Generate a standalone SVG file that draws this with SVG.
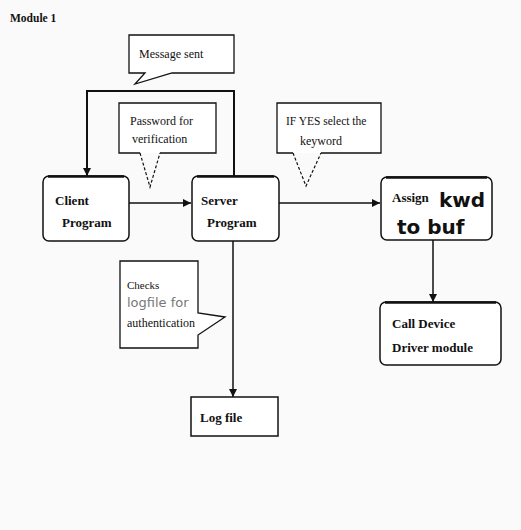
<svg xmlns="http://www.w3.org/2000/svg" width="521" height="530" viewBox="0 0 521 530">
<style>
.bg{fill:#fafafa}
.box{fill:#ffffff;stroke:#111;stroke-width:1.5}
.top{fill:none;stroke:#111;stroke-width:2.5}
.call{fill:#ffffff;stroke:#111;stroke-width:1.3}
.dash{fill:none;stroke:#111;stroke-width:1.2;stroke-dasharray:3 2}
.conn{fill:none;stroke:#111;stroke-width:1.5}
.loop{fill:none;stroke:#111;stroke-width:2}
.lbl{font-family:"Liberation Serif","Times New Roman",serif;font-size:13px;font-weight:bold;fill:#111}
.ctext{font-family:"Liberation Serif","Times New Roman",serif;font-size:12px;fill:#111}
.sans{font-family:"DejaVu Sans",Verdana,sans-serif;font-weight:bold;font-size:20px;fill:#111}
.grey{font-family:"DejaVu Sans",Verdana,sans-serif;font-size:13px;fill:#777}
</style>
<defs>
<marker id="arr" viewBox="0 0 10 10" refX="10" refY="5" markerWidth="8" markerHeight="8" markerUnits="userSpaceOnUse" orient="auto">
<path d="M0,0 L10,5 L0,10 Z" fill="#111"/>
</marker>
</defs>
<rect class="bg" x="0" y="0" width="521" height="530"/>
<text x="10" y="22" class="ctext" style="font-weight:bold;font-size:11.5px">Module 1</text>

<g id="connectors">
<path class="loop" d="M234,176 V91 H87 V176" marker-end="url(#arr)"/>
<line class="conn" x1="129" y1="203" x2="191" y2="203" marker-end="url(#arr)"/>
<line class="conn" x1="279" y1="203" x2="380" y2="203" marker-end="url(#arr)"/>
<line class="conn" x1="233" y1="241" x2="233" y2="397" marker-end="url(#arr)"/>
<line class="conn" x1="433" y1="240" x2="433" y2="302" marker-end="url(#arr)"/>
</g>

<g id="callout-message">
<path class="call" d="M129,35 H234 V73 H172 L135,84 L145,73 H129 Z"/>
<text x="139" y="58" class="ctext">Message sent</text>
</g>

<g id="callout-password">
<rect x="119" y="103" width="97" height="50" fill="#ffffff"/>
<path class="call" style="fill:none" d="M140,153 H119 V103 H216 V153 H160"/>
<path class="dash" d="M140,153 L150,187 L160,153"/>
<text x="130" y="125" class="ctext">Password for</text>
<text x="132" y="143" class="ctext">verification</text>
</g>

<g id="callout-ifyes">
<rect x="277" y="103" width="104" height="50" fill="#ffffff"/>
<path class="call" style="fill:none" d="M293,153 H277 V103 H381 V153 H321"/>
<path class="dash" d="M293,153 L306,186 L321,153"/>
<text x="286" y="125" class="ctext" style="font-size:11.5px">IF YES select the</text>
<text x="300" y="145" class="ctext">keyword</text>
</g>

<g id="callout-checks">
<path class="call" d="M120,261 H198 V313 L225,317 L198,335 V348 H120 Z"/>
<text x="127" y="289" class="ctext" style="font-size:11px">Checks</text>
<text x="127" y="307" class="grey">logfile for</text>
<text x="127" y="327" class="ctext">authentication</text>
</g>

<g id="client">
<rect class="box" x="43" y="176" width="86" height="65" rx="6"/>
<path class="top" d="M48,176.5 H124"/>
<text x="55" y="205" class="lbl">Client</text>
<text x="62" y="227" class="lbl">Program</text>
</g>

<g id="server">
<rect class="box" x="192" y="176" width="87" height="65" rx="6"/>
<path class="top" d="M197,176.5 H274"/>
<text x="201" y="205" class="lbl">Server</text>
<text x="207" y="227" class="lbl">Program</text>
</g>

<g id="assign">
<rect class="box" x="381" y="177" width="111" height="63" rx="6"/>
<path class="top" d="M386,177.5 H487"/>
<text x="392" y="202" class="lbl">Assign</text>
<text x="439" y="207" class="sans">kwd</text>
<text x="397" y="234" class="sans">to buf</text>
</g>

<g id="calldevice">
<rect class="box" x="380" y="302" width="121" height="63" rx="6"/>
<path class="top" d="M385,302.5 H496"/>
<text x="392" y="328" class="lbl">Call Device</text>
<text x="392" y="352" class="lbl">Driver module</text>
</g>

<g id="logfile">
<rect class="box" x="191" y="397" width="87" height="39"/>
<text x="200" y="422" class="lbl">Log file</text>
</g>
</svg>
